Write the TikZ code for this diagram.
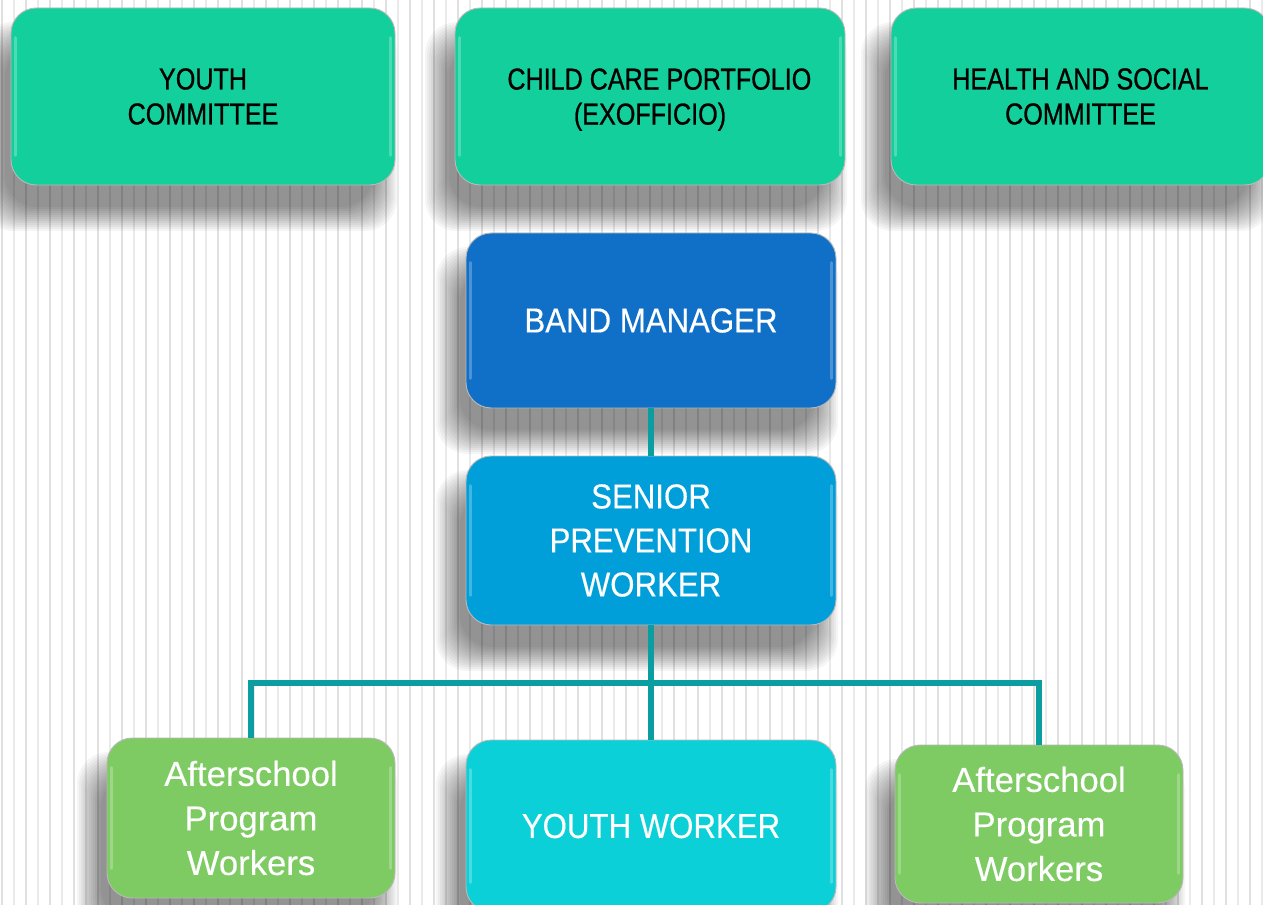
\documentclass[tikz,border=0pt]{standalone}
\usepackage{fontspec}
\setmainfont{Liberation Sans}
\newfontfamily\topfont[FakeStretch=0.83,FakeBold=0.8]{Liberation Sans}
\newfontfamily\capsfont[FakeStretch=0.9,FakeBold=0.3]{Liberation Sans}
\newfontfamily\lowfont[FakeBold=0.3]{Liberation Sans}
\usetikzlibrary{calc}
\definecolor{topgreen}{HTML}{12CF9C}
\definecolor{bandblue}{HTML}{1070C8}
\definecolor{seniorblue}{HTML}{009FDA}
\definecolor{ywcyan}{HTML}{0CD0D8}
\definecolor{aftergreen}{HTML}{7DCB62}
\definecolor{conncol}{HTML}{0A9EA0}
\definecolor{stripeA}{HTML}{E0E0E0}
\definecolor{stripeB}{HTML}{EAEAEA}
\tikzset{
  orgbox/.style={draw=gray!55, line width=0.7pt, rounded corners=19pt, align=center, inner sep=0pt},
  topbox/.style={orgbox, fill=topgreen, text=black, font=\topfont\fontsize{22.7}{26.25}\selectfont},
  bandbox/.style={orgbox, fill=bandblue, text=white, font=\capsfont\fontsize{26}{33}\selectfont},
  seniorbox/.style={orgbox, fill=seniorblue, text=white, font=\capsfont\fontsize{26}{33}\selectfont},
  ywbox/.style={orgbox, fill=ywcyan, text=white, font=\capsfont\fontsize{26}{33}\selectfont},
  afterbox/.style={orgbox, fill=aftergreen, text=white, font=\lowfont\fontsize{26}{33.4}\selectfont},
  rim/.style={white, opacity=0.25, line width=2pt, line cap=round},
  conn/.style={conncol, line width=4pt},
  stripeth/.style={stripeA, line width=1.2pt},
  stripetn/.style={stripeB, line width=0.8pt}
}
% #1 name, #2 cx, #3 cy, #4 w(px), #5 h(px), #6 style, #7 text
\newcommand\orgnode[7]{%
  \foreach \e in {16,14,...,-8}{%
    \fill[black, opacity=0.04, rounded corners=24pt]
      ({#2-#4/2-14-\e},{#3+#5/2+30+\e}) rectangle ({#2+#4/2-14+\e},{#3-#5/2+30-\e});
  }%
  \node[#6, minimum width={#4*0.75pt}, minimum height={#5*0.75pt}] (#1) at (#2,#3) {#7};
  \draw[rim] ($(#1.north west)+(5,30)$) -- ($(#1.south west)+(5,-30)$);
  \draw[rim] ($(#1.north east)+(-5,30)$) -- ($(#1.south east)+(-5,-30)$);
}
\newcommand\nodepth[1]{\raisebox{0pt}[\height][0pt]{#1}}
\begin{document}
\begin{tikzpicture}[x=0.75pt, y=-0.75pt]
\useasboundingbox (0,0) rectangle (1263,905);
\clip (0,0) rectangle (1263,905);
\fill[white] (0,0) rectangle (1263,905);
\foreach \i in {0,...,52}{
  \draw[stripeth] ({2+24*\i},0) -- ({2+24*\i},905);
  \draw[stripetn] ({14+24*\i},0) -- ({14+24*\i},905);
}
\orgnode{yc}{203}{96.5}{384}{177}{topbox}{YOUTH\\COMMITTEE}
\orgnode{cc}{650}{96.5}{390}{177}{topbox}{\hspace*{14pt}CHILD CARE PORTFOLIO\\\nodepth{(EXOFFICIO)}}
\orgnode{hs}{1080.5}{96.5}{379}{177}{topbox}{HEALTH AND SOCIAL\\COMMITTEE}
\orgnode{band}{651}{320.5}{370}{175}{bandbox}{BAND MANAGER}
\orgnode{senior}{651}{540.5}{370}{169}{seniorbox}{SENIOR\\PREVENTION\\WORKER}
\orgnode{aL}{251}{818}{288}{160}{afterbox}{Afterschool\\\nodepth{Program}\\Workers}
\orgnode{yw}{651}{826}{370}{172}{ywbox}{YOUTH WORKER}
\orgnode{aR}{1039}{824}{288}{158}{afterbox}{Afterschool\\\nodepth{Program}\\Workers}
\coordinate (j) at (650,683);
\draw[conn] (band.south) -- (senior.north);
\draw[conn] (senior.south) -- (yw.north);
\draw[conn] (aL.north) |- (j) -| (aR.north);
\end{tikzpicture}
\end{document}
